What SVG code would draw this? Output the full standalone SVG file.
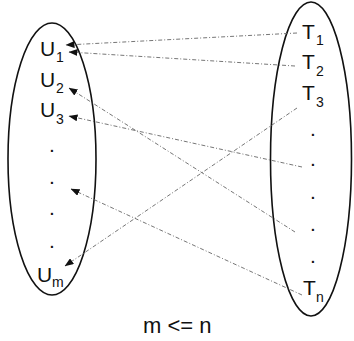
<svg xmlns="http://www.w3.org/2000/svg" width="354" height="341" viewBox="0 0 354 341">
<style>
.set{fill:none;stroke:#111;stroke-width:1.6}
.lbl{font-family:"Liberation Sans",Arial,sans-serif;font-size:21px;fill:#111}
.sub{font-family:"Liberation Sans",Arial,sans-serif;font-size:14px;fill:#111}
.dot{font-family:"Liberation Sans",Arial,sans-serif;font-size:21px;fill:#111;text-anchor:middle}
.conn{stroke:#666;stroke-width:0.9;fill:none;stroke-dasharray:4 2 1 2;marker-end:url(#ah)}
</style>
<defs>
<marker id="ah" markerUnits="userSpaceOnUse" markerWidth="9" markerHeight="7" refX="8.5" refY="3.5" orient="auto">
<path d="M0,0 L9,3.5 L0,7 z" fill="#111"/>
</marker>
</defs>
<rect width="354" height="341" fill="#fff"/>
<g id="setU">
<ellipse class="set" cx="52" cy="159" rx="44" ry="136"/>
<text class="lbl" x="40" y="56">U</text><text class="sub" x="56" y="62">1</text>
<text class="lbl" x="40" y="87">U</text><text class="sub" x="56" y="93">2</text>
<text class="lbl" x="40" y="117">U</text><text class="sub" x="56" y="124">3</text>
<text class="dot" x="52" y="152">.</text>
<text class="dot" x="52" y="184">.</text>
<text class="dot" x="52" y="215">.</text>
<text class="dot" x="52" y="248">.</text>
<text class="lbl" x="37" y="282">U</text><text class="sub" x="52" y="287">m</text>
</g>
<g id="setT">
<ellipse class="set" cx="311" cy="159" rx="40.5" ry="157"/>
<text class="lbl" x="302" y="39">T</text><text class="sub" x="316" y="45">1</text>
<text class="lbl" x="302" y="69">T</text><text class="sub" x="316" y="76">2</text>
<text class="lbl" x="302" y="100">T</text><text class="sub" x="316" y="107">3</text>
<text class="dot" x="313" y="136">.</text>
<text class="dot" x="313" y="166">.</text>
<text class="dot" x="313" y="199">.</text>
<text class="dot" x="313" y="231">.</text>
<text class="dot" x="313" y="263">.</text>
<text class="lbl" x="303" y="295">T</text><text class="sub" x="316" y="302">n</text>
</g>
<g id="connectors">
<line class="conn" x1="297" y1="33" x2="66" y2="45"/>
<line class="conn" x1="295" y1="66" x2="69" y2="52"/>
<line class="conn" x1="295" y1="232" x2="69" y2="88"/>
<line class="conn" x1="302" y1="167" x2="69" y2="116"/>
<line class="conn" x1="297" y1="108" x2="65" y2="266"/>
<line class="conn" x1="302" y1="295" x2="71" y2="189"/>
</g>
<text class="lbl" x="143" y="333" style="font-size:22px">m &lt;= n</text>
</svg>
